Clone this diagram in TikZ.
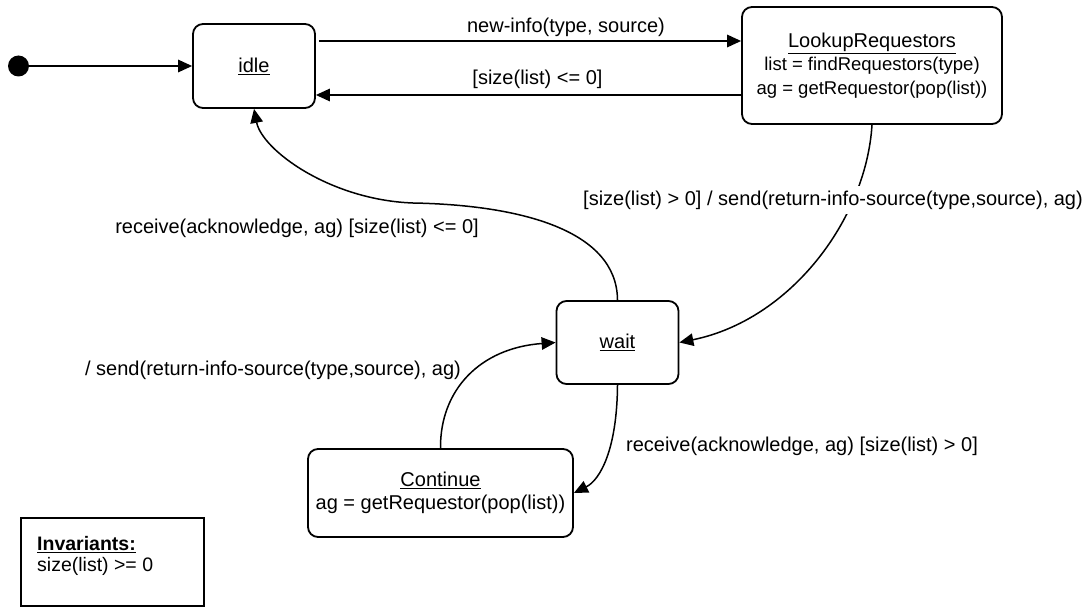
\documentclass[tikz,border=0pt]{standalone}
\usepackage{fontspec}
\setmainfont{Liberation Sans}
\usetikzlibrary{arrows.meta}
\begin{document}
\begin{tikzpicture}[x=1pt,y=-1pt,
  state/.style={draw, line width=1.8pt, rounded corners=10pt, inner sep=0pt, align=center, font=\fontsize{20}{23.5}\selectfont},
  lbl/.style={inner sep=2pt, font=\fontsize{20}{24}\selectfont},
  edge/.style={line width=1.5pt, -{Triangle[length=14pt,width=12.5pt]}},
]
\useasboundingbox (0,0) rectangle (1091,607);
% states
\node[circle, fill, inner sep=0pt, minimum size=21pt] (init) at (18.5,66) {};
\node[state, minimum width=122pt, minimum height=84pt] (idle) at (254,66) {\underline{idle}};
\node[state, minimum width=260pt, minimum height=117pt] (lookup) at (872,65.5)
  {\underline{LookupRequestors}\\ {\fontsize{18.5}{23.5}\selectfont list = findRequestors(type)}\\ {\fontsize{18.5}{23.5}\selectfont ag = getRequestor(pop(list))}};
\node[state, minimum width=122pt, minimum height=83pt] (wait) at (617.5,342.5) {\underline{wait}};
\node[state, minimum width=265pt, minimum height=88pt] (cont) at (440.5,493)
  {\underline{Continue}\\ ag = getRequestor(pop(list))};
% invariants
\node[draw, line width=1.6pt, minimum width=183pt, minimum height=88pt, inner sep=0pt] (inv) at (112.5,562) {};
\node[anchor=north west, align=left, inner sep=0pt, font=\fontsize{19.5}{21}\selectfont] (invt) at (37,536)
  {\underline{\textbf{Invariants:}}\\ size(list) >= 0};
% connectors
\draw[edge] (init) -- (idle);
\coordinate (a1) at ([yshift=25pt]idle.east);
\draw[edge, shorten <=3pt] (a1) -- (a1 -| lookup.west);
\coordinate (b1) at ([yshift=-29.5pt]lookup.west);
\draw[edge] (b1) -- (b1 -| idle.east);
\coordinate (m1) at (413,203);
\draw[edge] (wait.north) .. controls (617,230) and (520,205) .. (m1) .. controls (330,200) and (262,150) .. (idle.south);
\draw[edge] (lookup.south) .. controls (866,220) and (790,320) .. (wait.east);
\draw[edge] (wait.south) .. controls (617,450) and (600,480) .. (cont.east);
\draw[edge] (cont.north) .. controls (440,390) and (480,348) .. (wait.west);
% labels
\node[lbl] (l1) at (566,27) {new-info(type, source)};
\node[lbl] (l2) at (537.5,79) {[size(list) <= 0]};
\node[lbl] (l3) at (297,228) {receive(acknowledge, ag) [size(list) <= 0]};
\node[lbl, fill=white, inner ysep=5pt] (l4) at (833,200) {[size(list) > 0] / send(return-info-source(type,source), ag)};
\node[lbl] (l5) at (273,370) {/ send(return-info-source(type,source), ag)};
\node[lbl] (l6) at (802,446) {receive(acknowledge, ag) [size(list) > 0]};
\end{tikzpicture}
\end{document}
